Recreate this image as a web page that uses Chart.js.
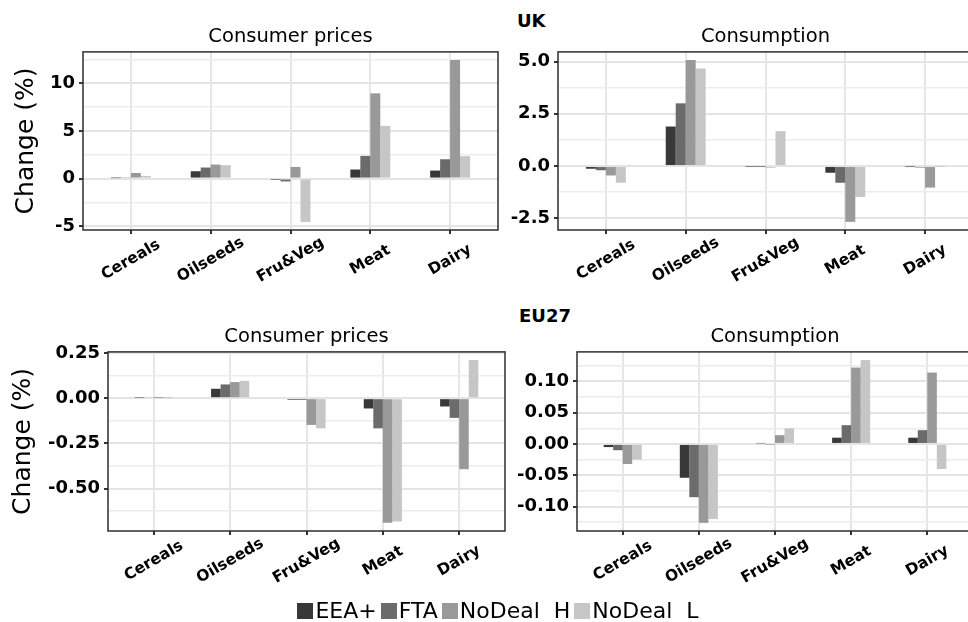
<!DOCTYPE html>
<html lang="en">
<head>
  <meta charset="UTF-8">
  <title>UK / EU27 - Consumer prices and consumption</title>
  <script src="https://cdn.jsdelivr.net/npm/chart.js"></script>
  <style>
    body { margin: 0; background: #fff; font-family: "DejaVu Sans", sans-serif; }
    #page { position: relative; width: 968px; height: 622px; overflow: hidden; }
    .panel { position: absolute; }
    .region { position: absolute; font-weight: bold; font-size: 18px; line-height: 1; color: #000; }
    #legend { position: absolute; left: 28px; width: 940px; top: 600px; text-align: center; font-size: 22px; line-height: 1; white-space: pre; color: #000; }
    #legend i { display: inline-block; width: 16px; height: 16px; margin-right: 2px; vertical-align: -1px; }
    #legend span { margin: 0 2px; }
  </style>
</head>
<body>
<div id="page">
  <div class="region" style="left:517px; top:12px;">UK</div>
  <div class="region" style="left:519px; top:307px;">EU27</div>

  <canvas id="ukPrices" class="panel" style="left:0; top:0;" width="500" height="300"></canvas>
  <canvas id="ukConsumption" class="panel" style="left:500px; top:0;" width="480" height="300"></canvas>
  <canvas id="euPrices" class="panel" style="left:0; top:300px;" width="510" height="300"></canvas>
  <canvas id="euConsumption" class="panel" style="left:510px; top:300px;" width="470" height="300"></canvas>

  <div id="legend"></div>
</div>

<script>
  const categories = ['Cereals', 'Oilseeds', 'Fru&Veg', 'Meat', 'Dairy'];
  const scenarios = ['EEA+', 'FTA', 'NoDeal  H', 'NoDeal  L'];

  // change (%) per scenario, one row per scenario, one value per category
  const ukPrices = [
    [0.05, 0.77, -0.05, 0.95, 0.84],
    [0.08, 1.16, -0.30, 2.38, 2.03],
    [0.59, 1.47, 1.22, 8.95, 12.45],
    [0.28, 1.40, -4.55, 5.54, 2.35]
  ];
  const ukConsumption = [
    [-0.13, 1.89, -0.02, -0.32, -0.02],
    [-0.20, 3.00, -0.01, -0.80, -0.07],
    [-0.45, 5.07, -0.07, -2.67, -1.03],
    [-0.80, 4.66, 1.67, -1.48, -0.01]
  ];
  const euPrices = [
    [0.003, 0.052, -0.009, -0.057, -0.046],
    [0.005, 0.076, -0.010, -0.167, -0.109],
    [0.001, 0.089, -0.148, -0.690, -0.393],
    [0.001, 0.096, -0.167, -0.683, 0.211]
  ];
  const euConsumption = [
    [-0.005, -0.054, 0.001, 0.010, 0.010],
    [-0.010, -0.085, -0.001, 0.030, 0.022],
    [-0.032, -0.126, 0.014, 0.122, 0.114],
    [-0.025, -0.120, 0.025, 0.134, -0.040]
  ];

  const ukPriceTicks = ['-5', '0', '5', '10'];
  const ukConsumptionTicks = ['-2.5', '0.0', '2.5', '5.0'];
  const euPriceTicks = ['-0.50', '-0.25', '0.00', '0.25'];
  const euConsumptionTicks = ['-0.10', '-0.05', '0.00', '0.05', '0.10'];

  const greys = ['#383838', '#6b6b6b', '#999999', '#c6c6c6'];
  const FONT = '"DejaVu Sans", sans-serif';

  Chart.defaults.font.family = FONT;
  Chart.defaults.color = '#000';

  // ggplot style box around the panel
  const panelBorder = {
    id: 'panelBorder',
    afterDraw(chart) {
      const a = chart.chartArea, c = chart.ctx;
      c.save();
      c.strokeStyle = '#2e2e2e';
      c.lineWidth = 1.5;
      c.strokeRect(a.left, a.top, a.right - a.left, a.bottom - a.top);
      c.restore();
    }
  };

  // category names, rotated 30deg and centred under their tick
  const categoryLabels = {
    id: 'categoryLabels',
    afterDraw(chart) {
      const x = chart.scales.x, c = chart.ctx;
      c.save();
      c.font = 'bold 15.5px ' + FONT;
      c.fillStyle = '#000';
      c.textAlign = 'center';
      c.textBaseline = 'middle';
      categories.forEach((name, i) => {
        c.save();
        c.translate(x.getPixelForValue(i), x.top + 30);
        c.rotate(-Math.PI / 6);
        c.fillText(name, 0, 0);
        c.restore();
      });
      c.restore();
    }
  };

  function makePanel(id, p) {
    const majors = p.ticks.map(Number);
    const isMajor = v => majors.some(m => Math.abs(m - v) < 1e-9);

    new Chart(document.getElementById(id), {
      type: 'bar',
      data: {
        datasets: scenarios.map((name, s) => ({
          label: name,
          data: p.values[s].map((v, i) => ({ x: i, y: v })),
          backgroundColor: greys[s],
          borderWidth: 0,
          categoryPercentage: 0.5,
          barPercentage: 1
        }))
      },
      options: {
        responsive: false,
        animation: false,
        layout: { padding: { right: p.padRight } },
        plugins: {
          legend: { display: false },
          tooltip: { enabled: false },
          title: {
            display: true,
            text: p.title,
            fullSize: false,
            color: '#000',
            font: { size: 19.5, weight: 'normal' },
            padding: { top: 25.5, bottom: 3 }
          }
        },
        scales: {
          x: {
            type: 'linear',
            min: -0.6,
            max: 4.6,
            offset: false,
            afterBuildTicks: s => { s.ticks = categories.map((c, i) => ({ value: i })); },
            afterFit: s => { s.height = p.xHeight; s.paddingLeft = 0; s.paddingRight = 0; },
            grid: { offset: false, color: '#e6e6e6', lineWidth: 2, tickColor: '#333', tickLength: 4 },
            border: { display: false },
            ticks: { display: false }
          },
          y: {
            min: p.min,
            max: p.max,
            afterFit: s => { s.width = p.yWidth; },
            grid: {
              color: ctx => isMajor(ctx.tick.value) ? '#e4e4e4' : '#ececec',
              lineWidth: ctx => isMajor(ctx.tick.value) ? 2 : 1.5,
              tickColor: ctx => isMajor(ctx.tick.value) ? '#333' : 'rgba(0,0,0,0)',
              tickLength: 4
            },
            border: { display: false },
            ticks: {
              stepSize: p.step,
              includeBounds: false,
              autoSkip: false,
              padding: 4,
              color: '#000',
              font: { size: 18, weight: 'bold' },
              callback: v => {
                const k = majors.findIndex(m => Math.abs(m - v) < 1e-9);
                return k >= 0 ? p.ticks[k] : '';
              }
            },
            title: p.yTitlePad === undefined ? { display: false } : {
              display: true,
              text: 'Change (%)',
              color: '#000',
              font: { size: 25, weight: 'normal' },
              padding: { top: p.yTitlePad, bottom: 0 }
            }
          }
        }
      },
      plugins: [panelBorder, categoryLabels]
    });
  }

  makePanel('ukPrices', {
    title: 'Consumer prices', values: ukPrices, ticks: ukPriceTicks,
    min: -5.4, max: 13.3, step: 2.5,
    yWidth: 83, padRight: 2, xHeight: 70, yTitlePad: 11
  });
  makePanel('ukConsumption', {
    title: 'Consumption', values: ukConsumption, ticks: ukConsumptionTicks,
    min: -3.06, max: 5.46, step: 1.25,
    yWidth: 58, padRight: 7, xHeight: 70
  });
  makePanel('euPrices', {
    title: 'Consumer prices', values: euPrices, ticks: euPriceTicks,
    min: -0.735, max: 0.256, step: 0.125,
    yWidth: 108, padRight: 5, xHeight: 69, yTitlePad: 8
  });
  makePanel('euConsumption', {
    title: 'Consumption', values: euConsumption, ticks: euConsumptionTicks,
    min: -0.139, max: 0.147, step: 0.025,
    yWidth: 67, padRight: 7, xHeight: 69
  });

  // legend
  const legend = document.getElementById('legend');
  scenarios.forEach((name, s) => {
    const item = document.createElement('span');
    const key = document.createElement('i');
    key.style.background = greys[s];
    item.appendChild(key);
    item.appendChild(document.createTextNode(name));
    legend.appendChild(item);
  });
</script>
</body>
</html>
